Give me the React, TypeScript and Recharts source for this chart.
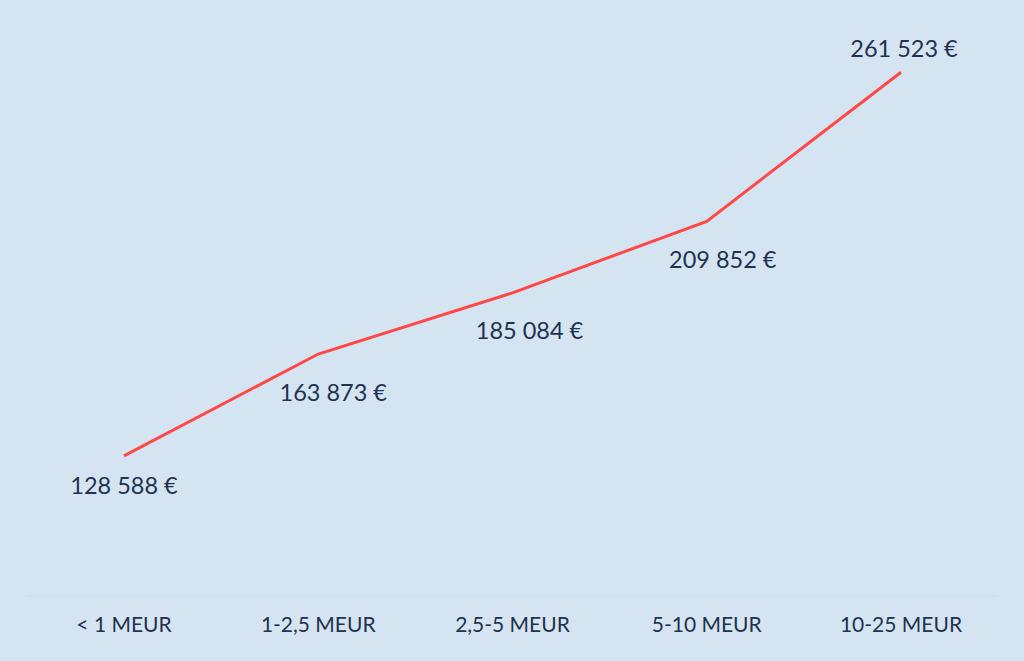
import { LineChart, Line, XAxis, YAxis, LabelList } from 'recharts';

const categories = ['< 1 MEUR', '1-2,5 MEUR', '2,5-5 MEUR', '5-10 MEUR', '10-25 MEUR'];
const values = [128588, 163873, 185084, 209852, 261523];

// label nudges relative to each point (as placed in the source chart)
const labelDx = [0, 15, 17, 16, 3];
const labelDy = [29, 37.5, 37.5, 38, -24];

const data = categories.map((name, i) => ({ name, value: values[i] }));

const fmt = (v: number) => `${v.toLocaleString('fr-FR').replace(/\s/g, ' ')} €`;

const PointLabel = (props: any) => {
  const { x, y, value, index } = props;
  return (
    <text
      x={x + labelDx[index]}
      y={y + labelDy[index]}
      textAnchor="middle"
      dominantBaseline="central"
      fill="#1f3250"
      fontSize={23.5}
      fontFamily="Lato, 'Open Sans', sans-serif"
    >
      {fmt(value)}
    </text>
  );
};

const App = () => {
  return (
    <div style={{ position: 'fixed', top: 0, left: 0, width: 1024, height: 661, background: '#d4e5f1' }}>
      <LineChart width={1024} height={661} data={data} margin={{ top: 19, right: 26, bottom: 15, left: 27 }}>
        <YAxis hide domain={[80000, 280000]} />
        <XAxis
          dataKey="name"
          height={50}
          padding={{ left: 97, right: 97 }}
          axisLine={{ stroke: '#d6d6dc', strokeWidth: 1 }}
          tickLine={false}
          tickSize={0}
          tickMargin={21}
          tick={{ fill: '#1f3250', fontSize: 21, fontFamily: "Lato, 'Open Sans', sans-serif" }}
        />
        <Line
          type="linear"
          dataKey="value"
          stroke="#ff4747"
          strokeWidth={3}
          dot={false}
          isAnimationActive={false}
        >
          <LabelList dataKey="value" content={<PointLabel />} />
        </Line>
      </LineChart>
    </div>
  );
};

export default App;
